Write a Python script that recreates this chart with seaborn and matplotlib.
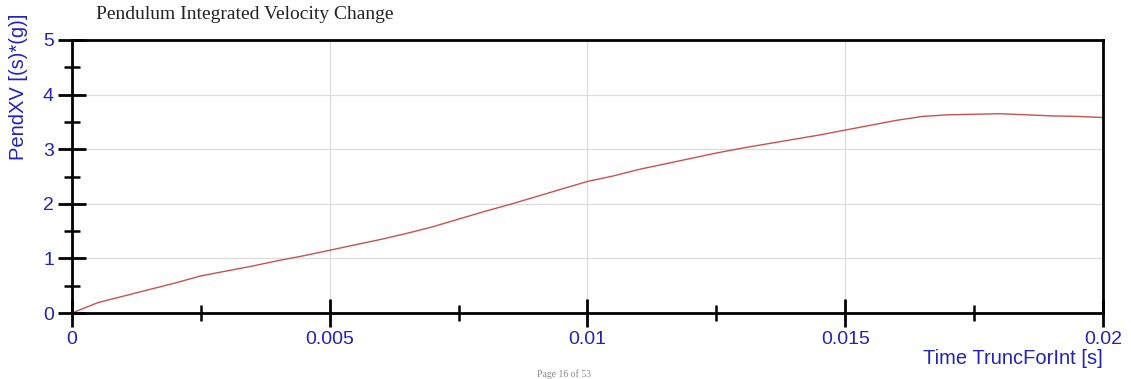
import matplotlib.pyplot as plt
import seaborn as sns
import pandas as pd
from matplotlib.ticker import MultipleLocator

# ---------------- Data ----------------
time_s = [0.0, 0.0005, 0.001, 0.0015, 0.002, 0.0025, 0.003, 0.0035, 0.004, 0.0045,
          0.005, 0.0055, 0.006, 0.0065, 0.007, 0.0075, 0.008, 0.0085, 0.009, 0.0095,
          0.01, 0.0105, 0.011, 0.0115, 0.012, 0.0125, 0.013, 0.0135, 0.014, 0.0145,
          0.015, 0.0155, 0.016, 0.0165, 0.017, 0.0175, 0.018, 0.0185, 0.019, 0.0195,
          0.02]
pend_xv = [0.00, 0.19, 0.31, 0.43, 0.55, 0.68, 0.77, 0.86, 0.96, 1.05,
           1.15, 1.25, 1.35, 1.46, 1.58, 1.72, 1.86, 1.99, 2.13, 2.27,
           2.41, 2.51, 2.63, 2.73, 2.83, 2.93, 3.02, 3.10, 3.18, 3.26,
           3.35, 3.44, 3.53, 3.60, 3.63, 3.64, 3.65, 3.63, 3.61, 3.60,
           3.58]

x_ticks = [0, 0.005, 0.01, 0.015, 0.02]
x_tick_labels = ["0", "0.005", "0.01", "0.015", "0.02"]
y_ticks = [0, 1, 2, 3, 4, 5]

df = pd.DataFrame({"t": time_s, "v": pend_xv})

# ---------------- Style ----------------
sns.set_theme(style="white")
plt.rcParams['font.family'] = ['Liberation Sans', 'DejaVu Sans']

blue = '#2323b8'

fig = plt.figure(figsize=(11.31, 3.79), dpi=100)
ax = fig.add_axes([0.0637, 0.1741, 0.9115, 0.7204])

sns.lineplot(data=df, x="t", y="v", ax=ax, color='#c8524f', linewidth=1.0)

ax.set_xlim(0, 0.02)
ax.set_ylim(0, 5)
ax.set_xticks(x_ticks)
ax.set_xticklabels(x_tick_labels)
ax.set_yticks(y_ticks)
ax.xaxis.set_minor_locator(MultipleLocator(0.0025))
ax.yaxis.set_minor_locator(MultipleLocator(0.5))

ax.grid(True, which='major', color='#dcdcdc', linewidth=0.9)
for s in ax.spines.values():
    s.set_color('black')
    s.set_linewidth(2.0)

ax.tick_params(axis='both', which='major', direction='inout', length=20, width=2,
               color='black', labelcolor=blue, labelsize=14, pad=3,
               bottom=True, left=True)
ax.tick_params(axis='both', which='minor', direction='inout', length=12, width=1.8,
               color='black', bottom=True, left=True)

ax.set_xlabel("Time TruncForInt [s]", color=blue, fontsize=14.5)
ax.xaxis.set_label_coords(1.0, -0.13)
ax.xaxis.label.set_horizontalalignment('right')
ax.xaxis.label.set_verticalalignment('top')
ax.set_ylabel("PendXV [(s)*(g)]", color=blue, fontsize=14.5)
ax.yaxis.set_label_coords(-0.043, 0.83)

fig.text(0.085, 0.962, "Pendulum Integrated Velocity Change", family='Liberation Serif',
         fontsize=14, color='#222222', ha='left', va='center')
fig.text(0.475, 0.001, "Page 16 of 53", family='Liberation Serif',
         fontsize=7, color='#888888', ha='left', va='bottom')

fig.savefig("out.png", dpi=100)
